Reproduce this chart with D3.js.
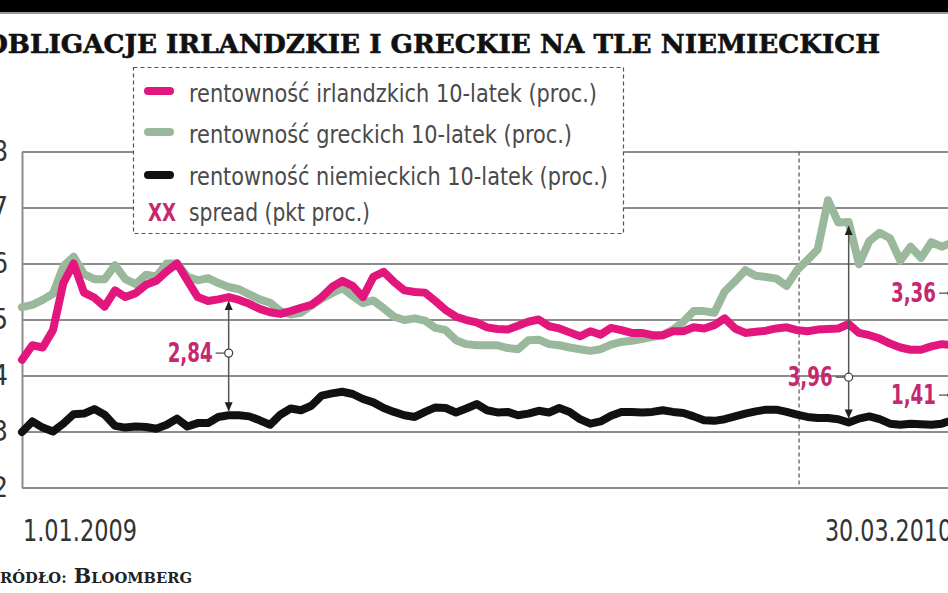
<!DOCTYPE html>
<html><head><meta charset="utf-8">
<script src="https://cdn.jsdelivr.net/npm/d3@7"></script>
<style>
html,body{margin:0;padding:0;background:#fff;overflow:hidden}
svg{display:block}
</style></head><body>
<svg id="chart" width="948" height="593"></svg>
<script>
// ---------- data ----------
const startDate = new Date(2009, 0, 1);
const stepDays = 5;
const irish = [4.28,4.54,4.5,4.81,5.65,6.0,5.48,5.39,5.23,5.52,
  5.4,5.47,5.62,5.69,5.86,6.0,5.7,5.4,5.33,5.36,
  5.4,5.35,5.28,5.19,5.13,5.1,5.15,5.21,5.26,5.4,
  5.58,5.69,5.6,5.4,5.76,5.85,5.67,5.52,5.49,5.48,
  5.33,5.17,5.05,4.99,4.95,4.86,4.83,4.82,4.89,4.96,
  5.0,4.88,4.84,4.77,4.7,4.79,4.73,4.85,4.81,4.76,
  4.76,4.72,4.72,4.79,4.79,4.86,4.84,4.9,5.02,4.84,
  4.76,4.78,4.8,4.84,4.86,4.81,4.79,4.82,4.83,4.84,
  4.92,4.76,4.72,4.66,4.57,4.5,4.46,4.46,4.52,4.56,4.54];
const greek = [5.22,5.26,5.35,5.46,5.95,6.12,5.81,5.72,5.72,5.97,
  5.72,5.63,5.8,5.77,6.0,6.0,5.77,5.7,5.74,5.65,
  5.58,5.54,5.45,5.36,5.3,5.15,5.09,5.12,5.25,5.37,
  5.47,5.56,5.42,5.29,5.34,5.2,5.05,4.99,5.02,4.98,
  4.85,4.81,4.63,4.56,4.54,4.54,4.54,4.49,4.47,4.63,
  4.64,4.56,4.54,4.5,4.47,4.44,4.47,4.55,4.6,4.62,
  4.65,4.69,4.72,4.82,4.96,5.15,5.15,5.12,5.5,5.68,
  5.88,5.78,5.76,5.73,5.6,5.88,6.06,6.25,7.13,6.73,
  6.74,5.99,6.4,6.55,6.45,6.05,6.3,6.1,6.38,6.3,6.37];
const german = [2.99,3.18,3.07,3.0,3.14,3.31,3.32,3.4,3.3,3.1,
  3.07,3.09,3.08,3.05,3.12,3.23,3.09,3.15,3.15,3.26,
  3.29,3.29,3.27,3.2,3.12,3.3,3.41,3.38,3.46,3.64,
  3.68,3.71,3.67,3.58,3.52,3.42,3.35,3.29,3.26,3.35,
  3.43,3.42,3.34,3.41,3.49,3.38,3.34,3.35,3.29,3.32,
  3.37,3.34,3.42,3.35,3.22,3.14,3.18,3.28,3.35,3.35,
  3.34,3.35,3.38,3.35,3.33,3.27,3.2,3.19,3.22,3.27,
  3.32,3.36,3.39,3.39,3.35,3.3,3.26,3.24,3.24,3.22,
  3.16,3.23,3.27,3.22,3.14,3.12,3.14,3.13,3.12,3.14,3.2];
const yTicks = [2,3,4,5,6,7,8];
const yLabels = ["2","3","4","5","6","7","8"];
const xLabels = ["1.01.2009","30.03.2010"];
const markerDate = new Date(2010, 0, 12);
const title = "OBLIGACJE IRLANDZKIE I GRECKIE NA TLE NIEMIECKICH";
const legendLabels = ["rentowność irlandzkich 10-latek (proc.)",
  "rentowność greckich 10-latek (proc.)",
  "rentowność niemieckich 10-latek (proc.)",
  "spread (pkt proc.)"];
const spreadIdx = [20, 80, 90, 90];
const spreadFrom = ["irish", "greek", "greek", "irish"];
const spreadLabels = ["2,84", "3,96", "3,36", "1,41"];
const spreadMarkAt = [4.4, 3.97, 5.47, 3.65];

// ---------- setup ----------
const dates = irish.map((_, i) => d3.timeDay.offset(startDate, i * stepDays));
const series = {irish, greek, german};
const W = 948, H = 593;
const NARROW = '"Liberation Sans Narrow","Arial Narrow","DejaVu Sans Condensed",sans-serif';
const SERIF = '"DejaVu Serif",serif';
const PINK = "#e2167c", GREEN = "#9ab89c", BLACK = "#111", LABELPINK = "#c4286f";

const svg = d3.select("#chart");
const x = d3.scaleTime().domain([dates[0], dates[dates.length - 1]]).range([22, 952]);
const y = d3.scaleLinear().domain([2, 8]).range([487.5, 151.5]);

// header
svg.append("rect").attr("x", 0).attr("y", 0).attr("width", W).attr("height", 12).attr("fill", "#000");
svg.append("rect").attr("x", 0).attr("y", 12).attr("width", W).attr("height", 2).attr("fill", "#9a9a9a");
svg.append("text").attr("x", -15).attr("y", 53)
  .attr("font-family", SERIF).attr("font-weight", "bold").attr("font-size", 26)
  .attr("textLength", 895).attr("lengthAdjust", "spacingAndGlyphs")
  .attr("fill", "#111").attr("stroke", "#111").attr("stroke-width", 0.6).text(title);

// grid / y axis
const yAxis = d3.axisLeft(y).tickValues(yTicks).tickSizeInner(-(W - 22)).tickSizeOuter(0)
  .tickPadding(14).tickFormat((d, i) => yLabels[i]);
const gy = svg.append("g").attr("transform", "translate(22,0)").call(yAxis);
gy.select(".domain").attr("stroke", "#8c8c8c").attr("stroke-width", 2);
gy.selectAll(".tick line").attr("stroke", "#8c8c8c").attr("stroke-width", 1.8);
gy.selectAll(".tick text").attr("font-family", NARROW).attr("font-size", 28).attr("fill", "#333");

// dashed vertical marker
svg.append("line").attr("x1", x(markerDate)).attr("x2", x(markerDate))
  .attr("y1", y(8)).attr("y2", y(2))
  .attr("stroke", "#555").attr("stroke-width", 1.2).attr("stroke-dasharray", "4,3");

// legend box
svg.append("rect").attr("x", 133.5).attr("y", 67.5).attr("width", 490).attr("height", 166)
  .attr("fill", "#fff").attr("stroke", "#555").attr("stroke-width", 1.2).attr("stroke-dasharray", "4,3");
const legColors = [PINK, GREEN, BLACK];
const legY = [91, 132, 175];
const legBase = [102, 143, 185, 221];
const legLen = [408, 383, 419, 181];
legColors.forEach((c, i) => {
  svg.append("line").attr("x1", 148).attr("x2", 170).attr("y1", legY[i]).attr("y2", legY[i])
    .attr("stroke", c).attr("stroke-width", 8).attr("stroke-linecap", "round");
});
legendLabels.forEach((t, i) => {
  svg.append("text").attr("x", 189).attr("y", legBase[i])
    .attr("font-family", NARROW).attr("font-size", 25).attr("fill", "#4a4a4a")
    .attr("textLength", legLen[i]).attr("lengthAdjust", "spacingAndGlyphs").text(t);
});
svg.append("text").attr("x", 148).attr("y", 221).attr("font-family", NARROW)
  .attr("font-weight", "bold").attr("font-size", 25).attr("fill", LABELPINK)
  .attr("textLength", 28).attr("lengthAdjust", "spacingAndGlyphs").text("XX");

// lines
const line = d3.line().x((d, i) => x(dates[i])).y(d => y(d));
[[greek, GREEN], [irish, PINK], [german, BLACK]].forEach(([s, c]) => {
  svg.append("path").datum(s).attr("d", line).attr("fill", "none")
    .attr("stroke", c).attr("stroke-width", 8)
    .attr("stroke-linejoin", "round").attr("stroke-linecap", "round");
});

// spreads
spreadIdx.forEach((idx, k) => {
  const xi = x(dates[idx]);
  const yTop = y(series[spreadFrom[k]][idx]) + 4;
  const yBot = y(german[idx]) - 4;
  const ym = y(spreadMarkAt[k]);
  const g = svg.append("g");
  g.append("line").attr("x1", xi).attr("x2", xi).attr("y1", yTop).attr("y2", yBot)
    .attr("stroke", "#555").attr("stroke-width", 1.5);
  g.append("path").attr("d", `M${xi},${yTop}L${xi - 4},${yTop + 9}L${xi + 4},${yTop + 9}Z`).attr("fill", "#222");
  g.append("path").attr("d", `M${xi},${yBot}L${xi - 4},${yBot - 9}L${xi + 4},${yBot - 9}Z`).attr("fill", "#222");
  g.append("line").attr("x1", xi - 13).attr("x2", xi - 4).attr("y1", ym).attr("y2", ym)
    .attr("stroke", "#555").attr("stroke-width", 1.3);
  g.append("circle").attr("cx", xi).attr("cy", ym).attr("r", 4)
    .attr("fill", "#fff").attr("stroke", "#444").attr("stroke-width", 1.3);
  g.append("text").attr("x", xi - 16).attr("y", ym + 9).attr("text-anchor", "end")
    .attr("font-family", NARROW).attr("font-weight", "bold").attr("font-size", 26)
    .attr("fill", LABELPINK).attr("textLength", 45).attr("lengthAdjust", "spacingAndGlyphs")
    .text(spreadLabels[k]);
});

// x labels
svg.append("text").attr("x", x(dates[0]) + 1).attr("y", 541).attr("font-family", NARROW)
  .attr("font-size", 31).attr("fill", "#333").attr("textLength", 114)
  .attr("lengthAdjust", "spacingAndGlyphs").text(xLabels[0]);
svg.append("text").attr("x", x(dates[dates.length - 1])).attr("y", 541).attr("text-anchor", "end")
  .attr("font-family", NARROW).attr("font-size", 31).attr("fill", "#333").attr("textLength", 127)
  .attr("lengthAdjust", "spacingAndGlyphs").text(xLabels[1]);

// source
const src = svg.append("text").attr("x", -15).attr("y", 583).attr("font-family", SERIF)
  .attr("font-weight", "bold").attr("fill", "#222")
  .attr("textLength", 207).attr("lengthAdjust", "spacingAndGlyphs");
src.append("tspan").attr("font-size", 21).text("Ź");
src.append("tspan").attr("font-size", 15).text("RÓDŁO:");
src.append("tspan").attr("font-size", 21).text(" B");
src.append("tspan").attr("font-size", 15).text("LOOMBERG");
</script>
</body></html>
